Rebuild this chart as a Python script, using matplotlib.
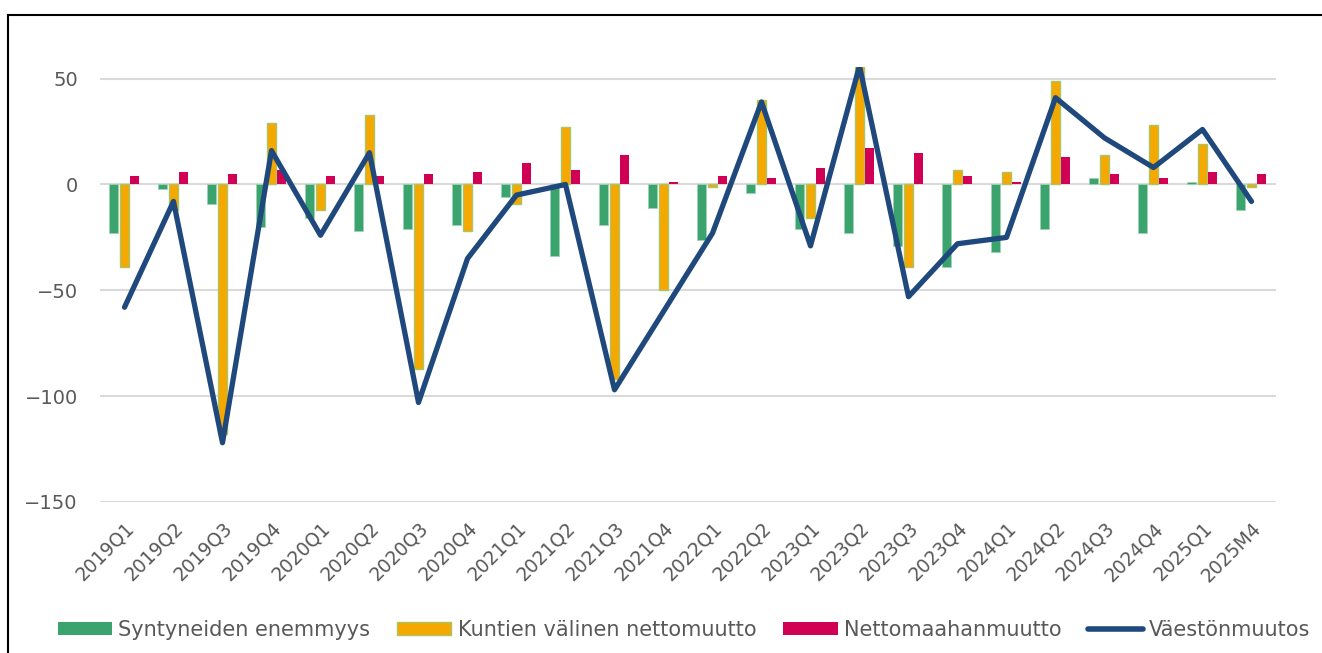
import numpy as np
import matplotlib.pyplot as plt
from matplotlib.lines import Line2D
from matplotlib.patches import Patch

# Data
quarters = ["2019Q1", "2019Q2", "2019Q3", "2019Q4", "2020Q1", "2020Q2", "2020Q3", "2020Q4",
            "2021Q1", "2021Q2", "2021Q3", "2021Q4", "2022Q1", "2022Q2", "2023Q1", "2023Q2",
            "2023Q3", "2023Q4", "2024Q1", "2024Q2", "2024Q3", "2024Q4", "2025Q1", "2025M4"]
syntyneet = [-23, -2, -9, -20, -16, -22, -21, -19, -6, -34, -19, -11,
             -26, -4, -21, -23, -29, -39, -32, -21, 3, -23, 1, -12]
kuntien = [-39, -12, -118, 29, -12, 33, -87, -22, -9, 27, -92, -50,
           -1, 40, -16, 62, -39, 7, 6, 49, 14, 28, 19, -1]
maahan = [4, 6, 5, 7, 4, 4, 5, 6, 10, 7, 14, 1,
          4, 3, 8, 17, 15, 4, 1, 13, 5, 3, 6, 5]
muutos = [-58, -8, -122, 16, -24, 15, -103, -35, -5, 0, -97, -60,
          -23, 39, -29, 56, -53, -28, -25, 41, 22, 8, 26, -8]

GREEN = "#3AA36E"
ORANGE = "#F5A800"
RED = "#D00054"
NAVY = "#1F497D"
TEXT = "#595959"

plt.rcParams['font.family'] = ['DejaVu Sans']

fig = plt.figure(figsize=(13.22, 6.53), dpi=100)
ax = fig.add_axes([100 / 1322, 1 - 502 / 653, 1176 / 1322, 435 / 653])

x = np.arange(len(quarters))
w = 0.19
ax.bar(x - 0.22, syntyneet, w, color=GREEN, edgecolor="#9FD3B5", linewidth=0.6, zorder=2)
ax.bar(x, kuntien, w, color=ORANGE, edgecolor="#A9C567", linewidth=1.0, zorder=2)
ax.bar(x + 0.21, maahan, w, color=RED, linewidth=0, zorder=2)
ax.plot(x, muutos, color=NAVY, linewidth=3.8, solid_joinstyle='round',
        solid_capstyle='round', zorder=3)

ax.set_xlim(-0.5, len(quarters) - 0.5)
ax.set_ylim(-150, 55.5)
ax.set_yticks([50, 0, -50, -100, -150])
ax.yaxis.grid(True, color="#DADADA", linewidth=1.5, zorder=0)
ax.set_axisbelow(True)
for s in ax.spines.values():
    s.set_visible(False)
ax.tick_params(axis='both', length=0, colors=TEXT)
ax.tick_params(axis='y', labelsize=14, pad=16)
ax.set_xticks(x)
ax.set_xticklabels(quarters, rotation=45, ha='right', rotation_mode='anchor',
                   fontsize=13.5, color=TEXT)
ax.tick_params(axis='x', pad=12)

# legend along the bottom
handles = [Patch(facecolor=GREEN, edgecolor="none"),
           Patch(facecolor=ORANGE, edgecolor="#A9C567"),
           Patch(facecolor=RED, edgecolor="none"),
           Line2D([0], [0], color=NAVY, linewidth=4, solid_capstyle='round')]
labels = ["Syntyneiden enemmyys", "Kuntien välinen nettomuutto",
          "Nettomaahanmuutto", "Väestönmuutos"]
fig.legend(handles, labels, loc='center', bbox_to_anchor=(684 / 1322, 1 - 630 / 653),
           ncol=4, frameon=False, fontsize=15, labelcolor=TEXT,
           handlelength=2.6, handleheight=0.6, handletextpad=0.3, columnspacing=1.3)

# outer frame (cut off at right and bottom)
fig.add_artist(Line2D([8 / 1322, 1], [1 - 15 / 653] * 2, color='black', linewidth=1.5,
                      transform=fig.transFigure))
fig.add_artist(Line2D([8 / 1322] * 2, [0, 1 - 15 / 653], color='black', linewidth=1.5,
                      transform=fig.transFigure))

fig.savefig("out.png", dpi=100)
